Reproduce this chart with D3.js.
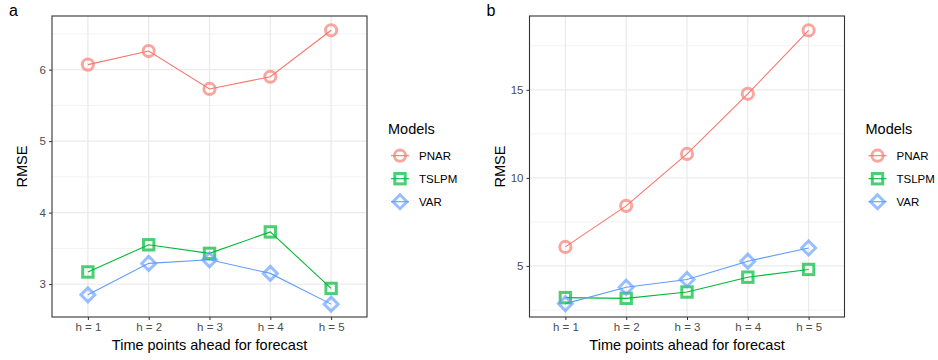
<!DOCTYPE html>
<html><head><meta charset="utf-8">
<script src="https://cdn.jsdelivr.net/npm/d3@7"></script>
<style>body{margin:0;background:#fff}svg{display:block;font-family:"Liberation Sans",Arial,sans-serif}</style>
</head><body><svg id="c" width="938" height="360"></svg>
<script>
const categories = ["h = 1","h = 2","h = 3","h = 4","h = 5"];
const models = ["PNAR","TSLPM","VAR"];
const colors = ["#F8766D","#00BA38","#619CFF"];
const shapes = ["circle","square","diamond"];
const aPNAR  = [6.07, 6.26, 5.73, 5.90, 6.55];
const aTSLPM = [3.17, 3.55, 3.43, 3.73, 2.94];
const aVAR   = [2.85, 3.29, 3.34, 3.15, 2.72];
const bPNAR  = [6.08, 8.41, 11.36, 14.77, 18.37];
const bTSLPM = [3.20, 3.16, 3.52, 4.36, 4.80];
const bVAR   = [2.86, 3.79, 4.23, 5.27, 6.02];
const aTicks = [3,4,5,6];
const aMinor = [2.5,3.5,4.5,5.5,6.5];
const bTicks = [5,10,15];
const bMinor = [2.5,7.5,12.5,17.5];
const panels = [
  {label:"a", series:[aPNAR,aTSLPM,aVAR], domain:[2.54,6.75], ticks:aTicks, minor:aMinor, left:52, right:367, legX:400},
  {label:"b", series:[bPNAR,bTSLPM,bVAR], domain:[2.1,19.19], ticks:bTicks, minor:bMinor, left:529.5, right:844.5, legX:877.5}
];
const svg = d3.select("#c");
const pTop=16, pBottom=317;

function drawShape(g, shape, x, y, color){
  if(shape==="circle"){
    g.append("circle").attr("cx",x).attr("cy",y).attr("r",5.6)
      .attr("fill","none").attr("stroke",color).attr("stroke-width",3).attr("stroke-opacity",0.65);
  } else if(shape==="square"){
    const s=5.2;
    g.append("rect").attr("x",x-s).attr("y",y-s).attr("width",2*s).attr("height",2*s)
      .attr("fill","none").attr("stroke",color).attr("stroke-width",3).attr("stroke-opacity",0.7);
  } else {
    const s=7;
    g.append("path").attr("d",`M${x},${y-s}L${x+s},${y}L${x},${y+s}L${x-s},${y}Z`)
      .attr("fill","none").attr("stroke",color).attr("stroke-width",3).attr("stroke-opacity",0.65);
  }
}

panels.forEach(p=>{
  const x = d3.scalePoint().domain(categories).range([p.left,p.right]).padding(0.59);
  const y = d3.scaleLinear().domain(p.domain).range([pBottom,pTop]);
  const g = svg.append("g");
  g.selectAll(".mn").data(p.minor.filter(v=>v>=p.domain[0]&&v<=p.domain[1])).enter().append("line")
    .attr("x1",p.left).attr("x2",p.right).attr("y1",d=>y(d)).attr("y2",d=>y(d))
    .attr("stroke","#f2f2f2").attr("stroke-width",1);
  g.selectAll(".mj").data(p.ticks).enter().append("line")
    .attr("x1",p.left).attr("x2",p.right).attr("y1",d=>y(d)).attr("y2",d=>y(d))
    .attr("stroke","#ebebeb").attr("stroke-width",1.3);
  g.selectAll(".vx").data(categories).enter().append("line")
    .attr("x1",d=>x(d)).attr("x2",d=>x(d)).attr("y1",pTop).attr("y2",pBottom)
    .attr("stroke","#ebebeb").attr("stroke-width",1.3);
  const ya = g.append("g").attr("transform",`translate(${p.left},0)`)
    .call(d3.axisLeft(y).tickValues(p.ticks).tickFormat(d3.format("d")).tickSize(3).tickPadding(3));
  const xa = g.append("g").attr("transform",`translate(0,${pBottom})`)
    .call(d3.axisBottom(x).tickSize(3).tickPadding(3));
  [ya,xa].forEach(a=>{
    a.select(".domain").remove();
    a.selectAll(".tick line").attr("stroke","#333");
    a.selectAll(".tick text").attr("fill","#4d4d4d").style("font-size","11.5px").style("font-family","Liberation Sans, Arial, sans-serif");
  });
  p.series.forEach((vals,i)=>{
    const line = d3.line().x((d,j)=>x(categories[j])).y(d=>y(d));
    g.append("path").datum(vals).attr("d",line).attr("fill","none").attr("stroke",colors[i]).attr("stroke-width",1.1);
  });
  p.series.forEach((vals,i)=>{
    vals.forEach((v,j)=>drawShape(g, shapes[i], x(categories[j]), y(v), colors[i]));
  });
  g.append("rect").attr("x",p.left).attr("y",pTop).attr("width",p.right-p.left).attr("height",pBottom-pTop)
    .attr("fill","none").attr("stroke","#333").attr("stroke-width",1.1);
  g.append("text").attr("x",(p.left+p.right)/2).attr("y",350).attr("text-anchor","middle")
    .style("font-size","14.5px").attr("fill","#000").text("Time points ahead for forecast");
  g.append("text").attr("transform",`translate(${p.left-25},${(pTop+pBottom)/2}) rotate(-90)`)
    .attr("text-anchor","middle").style("font-size","14.5px").attr("fill","#000").text("RMSE");
  g.append("text").attr("x",p.left-43).attr("y",16).style("font-size","16px").attr("fill","#000").text(p.label);
  const lg = g.append("g");
  lg.append("text").attr("x",p.legX-12).attr("y",134).style("font-size","14.5px").attr("fill","#000").text("Models");
  models.forEach((m,i)=>{
    const cy = 155.7 + i*23;
    lg.append("line").attr("x1",p.legX-9).attr("x2",p.legX+9).attr("y1",cy).attr("y2",cy)
      .attr("stroke",colors[i]).attr("stroke-width",1.1);
    drawShape(lg, shapes[i], p.legX, cy, colors[i]);
    lg.append("text").attr("x",p.legX+19).attr("y",cy+4).style("font-size","11.5px").attr("fill","#000").text(m);
  });
});
</script></body></html>
